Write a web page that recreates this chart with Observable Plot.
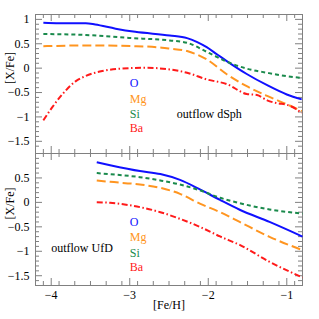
<!DOCTYPE html>
<html><head><meta charset="utf-8">
<script src="https://cdn.jsdelivr.net/npm/d3@7"></script>
<script src="https://cdn.jsdelivr.net/npm/@observablehq/plot@0.6"></script>
<style>
body{margin:0;background:#fff;}
#chart{position:relative;width:319px;height:319px;background:#fff;}
#chart svg, #chart svg text{font-family:"Liberation Serif","DejaVu Serif",serif !important;}
</style></head><body><div id="chart"></div>
<script>
// ---- data: outflow dSph (top panel) ----
const dSph_O_feh  = [-4.1, -3.9, -3.56, -3.44, -3.18, -2.93, -2.49, -2.27, -2.14, -2.02, -1.89, -1.76, -1.51, -1.25, -1.0, -0.81];
const dSph_O      = [0.93, 0.92, 0.92, 0.895, 0.81, 0.745, 0.67, 0.615, 0.535, 0.43, 0.285, 0.14, -0.12, -0.35, -0.54, -0.64];
const dSph_Si_feh = [-4.1, -3.56, -3.01, -2.49, -2.27, -2.02, -1.76, -1.51, -1.25, -1.0, -0.81];
const dSph_Si     = [0.70, 0.68, 0.62, 0.567, 0.52, 0.335, 0.13, -0.01, -0.095, -0.165, -0.2];
const dSph_Mg_feh = [-4.1, -3.56, -2.93, -2.59, -2.49, -2.27, -2.02, -1.76, -1.51, -1.25, -1.0, -0.81];
const dSph_Mg     = [0.45, 0.465, 0.45, 0.42, 0.40, 0.35, 0.18, -0.13, -0.37, -0.57, -0.74, -0.88];
const dSph_Ba_feh = [-4.1, -3.99, -3.86, -3.69, -3.56, -3.35, -3.14, -2.8, -2.49, -2.27, -2.02, -1.76, -1.51, -1.38, -1.25, -1.12, -1.0, -0.87, -0.81];
const dSph_Ba     = [-1.07, -0.81, -0.54, -0.27, -0.16, -0.06, -0.013, 0.007, -0.027, -0.095, -0.23, -0.33, -0.53, -0.55, -0.66, -0.72, -0.75, -0.85, -0.92];
// ---- data: outflow UfD (bottom panel) ----
const ufd_feh     = [-3.42, -3.25, -2.87, -2.61, -2.36, -2.10, -1.85, -1.60, -1.22, -0.8];
const ufd_O       = [0.82, 0.76, 0.64, 0.58, 0.46, 0.26, 0.05, -0.15, -0.40, -0.70];
const ufd_Si      = [0.60, 0.577, 0.516, 0.448, 0.366, 0.243, 0.094, -0.016, -0.145, -0.227];
const ufd_Mg      = [0.45, 0.42, 0.366, 0.298, 0.175, -0.03, -0.20, -0.40, -0.704, -0.977];
const ufd_Ba      = [0.004, -0.009, -0.097, -0.20, -0.336, -0.506, -0.697, -0.87, -1.215, -1.536];
// ---- labels & ticks ----
const elements = ["O", "Mg", "Si", "Ba"];
const panelLabels = ["outflow dSph", "outflow UfD"];
const xLabel = "[Fe/H]";
const yLabel = "[X/Fe]";
const xMajor = [-4, -3, -2, -1];
const yMajor = [-1.5, -1, -0.5, 0, 0.5, 1];

// ---- styles ----
const colors = {O: "#1010ff", Mg: "#ff9520", Si: "#1a8a4c", Ba: "#ff1a1a"};
const dashes = {O: null, Mg: "9,4", Si: "4,3", Ba: "6,2.5,1.5,2.5"};
const axisColor = "#808080";
const font = "Liberation Serif";

function rows(xs, ys, el) { return xs.map((x, i) => ({el, x, y: ys[i]})); }
const dSphRows = [
  ...rows(dSph_O_feh, dSph_O, "O"), ...rows(dSph_Mg_feh, dSph_Mg, "Mg"),
  ...rows(dSph_Si_feh, dSph_Si, "Si"), ...rows(dSph_Ba_feh, dSph_Ba, "Ba")
];
const ufdRows = [
  ...rows(ufd_feh, ufd_O, "O"), ...rows(ufd_feh, ufd_Mg, "Mg"),
  ...rows(ufd_feh, ufd_Si, "Si"), ...rows(ufd_feh, ufd_Ba, "Ba")
];

const fmt = d => (d < 0 ? "\u2212" : "") + Math.abs(d);
const xMinor = d3.range(-41, -8, 2).map(v => v / 10).filter(v => v > -4.2 && v < -0.8 && !xMajor.some(m => Math.abs(m - v) < 1e-6));

const W = 319, H = 319, ML = 35, MR = 17;
function panel({data, yDomain, top, bottom, showX, label, labelX, labelY, legendX, legendY}) {
  const innerH = H - top - bottom, innerW = W - ML - MR;
  const yMinor = d3.range(Math.round(yDomain[0] * 10) + 1, Math.round(yDomain[1] * 10)).map(v => v / 10)
    .filter(v => !yMajor.some(m => Math.abs(m - v) < 1e-6));
  const yM = yMajor.filter(v => v > yDomain[0] && v < yDomain[1]);
  const tf = {fontFamily: font, fontSize: 12};
  const marks = [
    Plot.frame({stroke: axisColor}),
    // inward ticks on all four sides
    Plot.tickX(xMajor, {x: d => d, stroke: axisColor, insetTop: innerH - 7}),
    Plot.tickX(xMajor, {x: d => d, stroke: axisColor, insetBottom: innerH - 7}),
    Plot.tickX(xMinor, {x: d => d, stroke: axisColor, insetTop: innerH - 4}),
    Plot.tickX(xMinor, {x: d => d, stroke: axisColor, insetBottom: innerH - 4}),
    Plot.tickY(yM, {y: d => d, stroke: axisColor, insetRight: innerW - 7}),
    Plot.tickY(yM, {y: d => d, stroke: axisColor, insetLeft: innerW - 7}),
    Plot.tickY(yMinor, {y: d => d, stroke: axisColor, insetRight: innerW - 4}),
    Plot.tickY(yMinor, {y: d => d, stroke: axisColor, insetLeft: innerW - 4}),
    Plot.axisY(yM, {tickSize: 0, tickPadding: 6, tickFormat: fmt, label: null, ...tf}),
    Plot.text([yLabel], {frameAnchor: "left", dx: -25, rotate: -90, fill: "black", ...tf}),
    ...elements.map(e => Plot.line(data.filter(d => d.el === e), {
      x: "x", y: "y", stroke: colors[e], strokeWidth: 2, strokeDasharray: dashes[e],
      strokeLinecap: "butt", strokeLinejoin: "round", curve: "monotone-x"
    })),
    Plot.text([label], {x: () => labelX, y: () => labelY, textAnchor: "start", fill: "black", ...tf}),
    Plot.text(elements, {x: () => legendX, y: (d, i) => legendY[i], text: d => d, fill: d => colors[d], textAnchor: "start", ...tf})
  ];
  if (showX) {
    marks.push(Plot.axisX(xMajor, {tickSize: 0, tickPadding: 5, tickFormat: fmt, label: null, ...tf}));
    marks.push(Plot.text([xLabel], {frameAnchor: "bottom", dy: 23, fill: "black", ...tf}));
  }
  return Plot.plot({
    width: W, height: H,
    marginLeft: ML, marginRight: MR, marginTop: top, marginBottom: bottom,
    x: {domain: [-4.2, -0.8], axis: showX ? undefined : null},
    y: {domain: yDomain},
    style: {position: "absolute", top: "0px", left: "0px", background: "transparent", overflow: "visible", fontFamily: font, fontSize: "12px", color: "black"},
    marks
  });
}

const chart = document.getElementById("chart");
chart.append(panel({
  data: dSphRows, yDomain: [-1.75, 1.1], top: 14, bottom: 166, showX: false,
  label: panelLabels[0], labelX: -2.4, labelY: -0.95,
  legendX: -3.0, legendY: [-0.31, -0.64, -0.95, -1.24]
}));
chart.append(panel({
  data: ufdRows, yDomain: [-1.7, 1.0], top: 153, bottom: 34, showX: true,
  label: panelLabels[1], labelX: -4.0, labelY: -0.94,
  legendX: -3.0, legendY: [-0.40, -0.72, -1.04, -1.33]
}));
</script></body></html>
